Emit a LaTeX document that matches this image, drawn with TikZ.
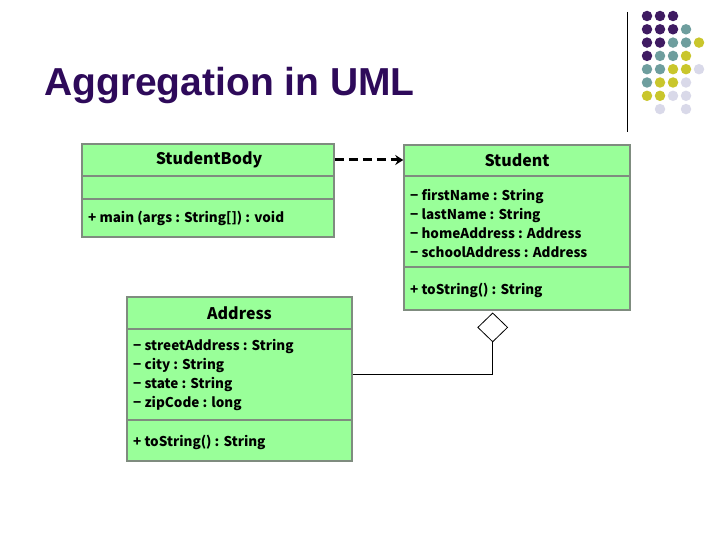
\documentclass[tikz,border=0pt]{standalone}
\usepackage{fontspec}
\setmainfont{Liberation Sans}
\newfontfamily\umlfont{Noto Sans CJK JP}
\usetikzlibrary{positioning, arrows.meta, shapes.geometric}
\definecolor{umlgreen}{HTML}{99FF99}
\definecolor{umlborder}{HTML}{7F8C7F}
\definecolor{titlepurple}{HTML}{2E0A5A}
\definecolor{dotpurple}{HTML}{3F1B62}
\definecolor{dotteal}{HTML}{6E9E9E}
\definecolor{dotyellow}{HTML}{C9C62C}
\definecolor{dotlilac}{HTML}{D9D9E9}

\begin{document}
\begin{tikzpicture}[
        x=1pt, y=-1pt,
        every node/.style={font=\umlfont\bfseries\fontsize{13.5}{19}\selectfont},
        classbox/.style={
          draw=umlborder, line width=1.5pt,
          fill=umlgreen, inner sep=0pt,
        },
        classname/.style={
          font=\umlfont\bfseries\fontsize{16}{18}\selectfont, inner sep=0pt,
        },
        member/.style={
          anchor=west, inner sep=0pt, align=left,
        },
        divider/.style={
          draw=umlborder, line width=1.5pt,
        },
        depends/.style={
          -{Stealth[length=8pt, width=10pt]}, line width=3pt,
          dash pattern=on 9pt off 5pt,
        },
        hollow/.style={
          diamond, draw, fill=white, line width=0.8pt,
          minimum width=30pt, minimum height=29pt, inner sep=0pt,
        },
        dot/.style={circle, inner sep=0pt, minimum size=10.5pt},
      ]
      \useasboundingbox (0,0) rectangle (720,540);

      % title and corner decoration
      \node[anchor=base west, inner sep=0pt, text=titlepurple,
        font=\bfseries\fontsize{39}{44}\selectfont] (title) at (44,96) {Aggregation in UML};
      \coordinate (ruletop) at (627,12);
      \coordinate (rulebot) at (627,132);
      \draw[line width=1pt] (ruletop) -- (rulebot);
      \foreach \row/\col/\shade in {
          0/0/dotpurple, 0/1/dotpurple, 0/2/dotpurple,
          1/0/dotpurple, 1/1/dotpurple, 1/2/dotpurple, 1/3/dotteal,
          2/0/dotpurple, 2/1/dotpurple, 2/2/dotteal, 2/3/dotteal, 2/4/dotyellow,
          3/0/dotpurple, 3/1/dotteal, 3/2/dotteal, 3/3/dotyellow,
          4/0/dotteal, 4/1/dotteal, 4/2/dotyellow, 4/3/dotyellow, 4/4/dotlilac,
          5/0/dotteal, 5/1/dotyellow, 5/2/dotyellow, 5/3/dotlilac,
          6/0/dotyellow, 6/1/dotyellow, 6/2/dotlilac, 6/3/dotlilac,
          7/1/dotlilac, 7/3/dotlilac}
        \node[dot, fill=\shade] (d\row\col) at (647+13*\col, 16+13.3*\row) {};

      % classes
      \node[classbox, minimum width=252pt, minimum height=93pt] (sbody) at (208,190.5) {};
      \node[classbox, minimum width=226pt, minimum height=165pt] (student) at (517,227.5) {};
      \node[classbox, minimum width=225pt, minimum height=164pt] (address) at (239.5,379) {};

      \draw[divider] (sbody.west |- 0,176) -- (sbody.east |- 0,176);
      \draw[divider] (sbody.west |- 0,199) -- (sbody.east |- 0,199);
      \draw[divider] (student.west |- 0,176) -- (student.east |- 0,176);
      \draw[divider] (student.west |- 0,267) -- (student.east |- 0,267);
      \draw[divider] (address.west |- 0,329) -- (address.east |- 0,329);
      \draw[divider] (address.west |- 0,420) -- (address.east |- 0,420);

      \node[classname] (sbodyname) at (209,160) {StudentBody};
      \node[classname] (studentname) at (517,160.5) {Student};
      \node[classname] (addressname) at (239.5,313) {Address};

      \node[member] (sbodyops) at (88,218) {+ main (args : String[]) : void};
      \node[member] (studentattrs) at (410,223.5) {%
        − firstName : String\\
        − lastName : String\\
        − homeAddress : Address\\
        − schoolAddress : Address};
      \node[member] (studentops) at (410,290) {+ toString() : String};
      \node[member] (addressattrs) at (133,375.5) {%
        − streetAddress : String\\
        − city : String\\
        − state : String\\
        − zipCode : long};
      \node[member] (addressops) at (133,442) {+ toString() : String};

      % relations
      \draw[depends] (sbody.east |- sbodyname) -- (student.west |- sbodyname);
      \node[hollow, anchor=north] (agg) at (492.7,312.5) {};
      \coordinate (bend) at (agg.south |- 0,374);
      \draw[line width=0.8pt] (agg.south) -- (bend) -- (address.east |- bend);
    \end{tikzpicture}
\end{document}
